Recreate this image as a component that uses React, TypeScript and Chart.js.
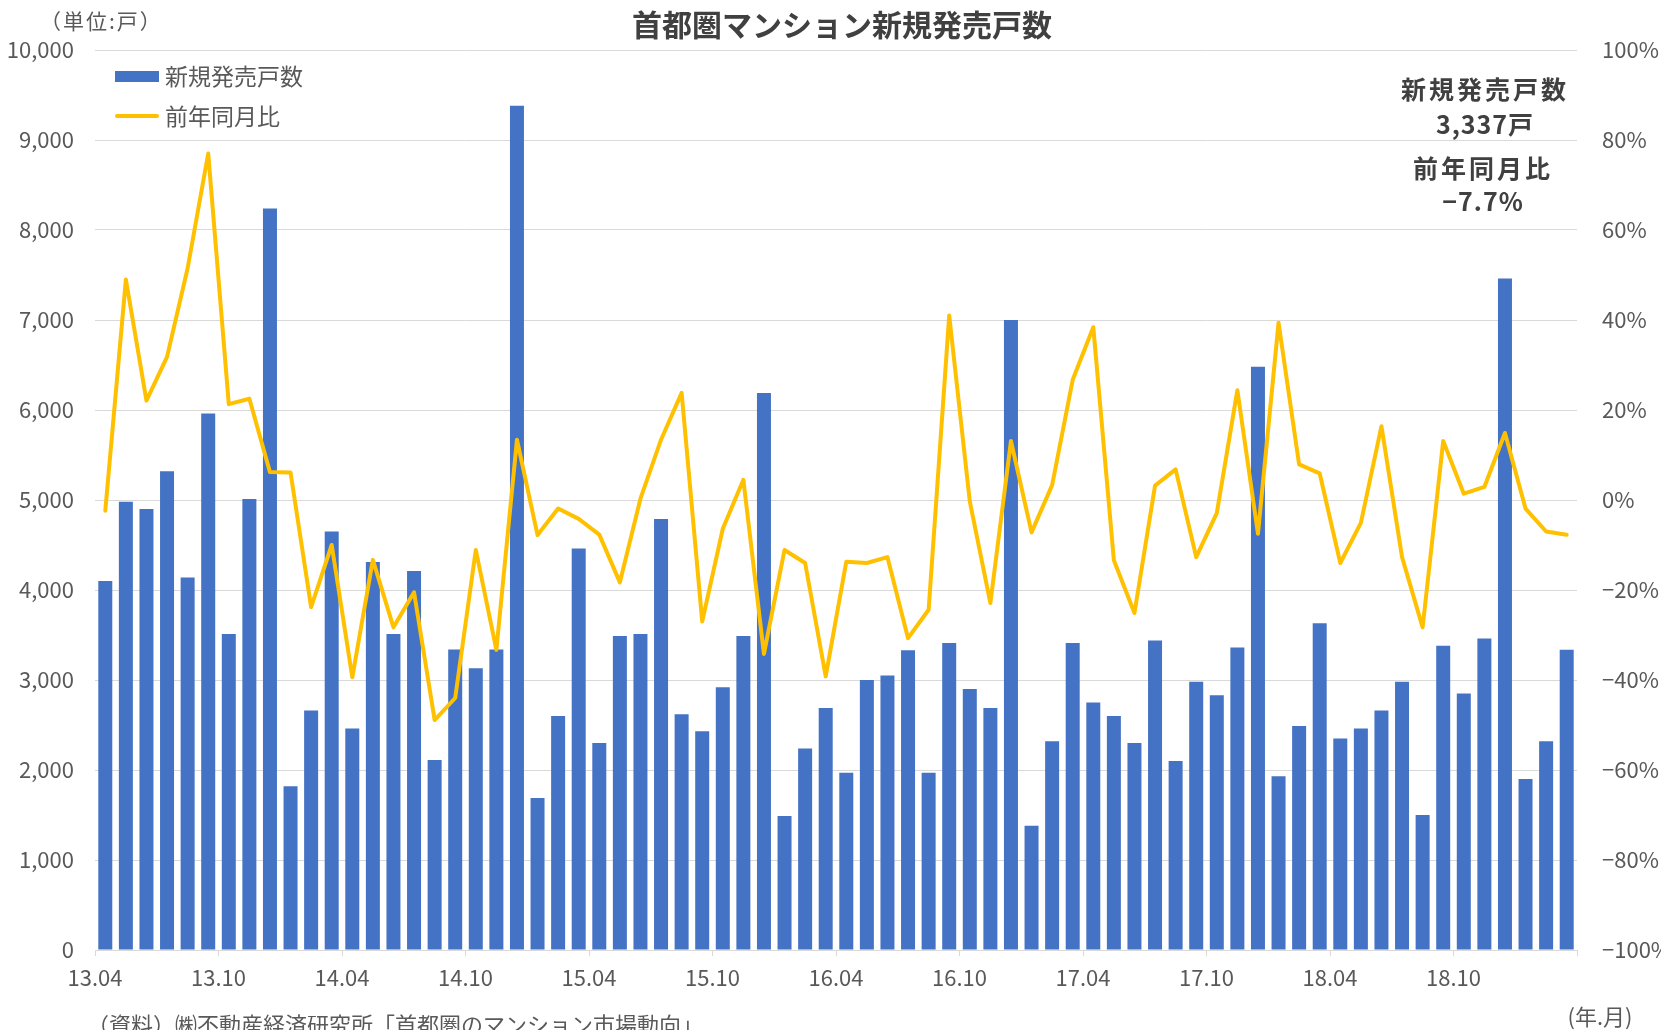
import { useEffect, useRef } from 'react';
import { Chart, registerables } from 'chart.js';

Chart.register(...registerables);

const months = [
  '13.04','13.05','13.06','13.07','13.08','13.09','13.10','13.11','13.12',
  '14.01','14.02','14.03','14.04','14.05','14.06','14.07','14.08','14.09','14.10','14.11','14.12',
  '15.01','15.02','15.03','15.04','15.05','15.06','15.07','15.08','15.09','15.10','15.11','15.12',
  '16.01','16.02','16.03','16.04','16.05','16.06','16.07','16.08','16.09','16.10','16.11','16.12',
  '17.01','17.02','17.03','17.04','17.05','17.06','17.07','17.08','17.09','17.10','17.11','17.12',
  '18.01','18.02','18.03','18.04','18.05','18.06','18.07','18.08','18.09','18.10','18.11','18.12',
  '19.01','19.02','19.03',
];

// 新規発売戸数 (戸)
const units = [
  4100, 4980, 4900, 5320, 4140, 5960, 3510, 5010, 8240,
  1820, 2660, 4650, 2460, 4310, 3510, 4210, 2110, 3340, 3130, 3340, 9380,
  1690, 2600, 4460, 2300, 3490, 3510, 4790, 2620, 2430, 2920, 3490, 6190,
  1490, 2240, 2690, 1970, 3000, 3050, 3330, 1970, 3410, 2900, 2690, 7000,
  1380, 2320, 3410, 2750, 2600, 2300, 3440, 2100, 2980, 2830, 3360, 6480,
  1930, 2490, 3630, 2350, 2460, 2660, 2980, 1500, 3380, 2850, 3460, 7460,
  1900, 2320, 3337,
];

// 前年同月比 (%)
const yoy = [
  -2.4, 49, 22.1, 31.8, 51.5, 77, 21.3, 22.5, 6.2,
  6.1, -23.8, -10, -39.4, -13.3, -28.3, -20.5, -48.9, -44, -11.1, -33.3, 13.4,
  -7.8, -1.9, -4.2, -7.7, -18.3, 0.3, 13.4, 23.8, -27, -6.4, 4.5, -34.2,
  -11.1, -14, -39.2, -13.7, -14, -12.7, -30.7, -24.4, 41, -0.3, -22.9, 13.1,
  -7.2, 3.3, 26.7, 38.4, -13.4, -25.1, 3.2, 6.8, -12.7, -2.9, 24.4, -7.5,
  39.4, 7.9, 5.9, -14, -5.1, 16.4, -12.7, -28.3, 13.1, 1.4, 2.9, 14.9,
  -1.9, -7, -7.7,
];

const xTickLabels = [
  '13.04','13.10','14.04','14.10','15.04','15.10',
  '16.04','16.10','17.04','17.10','18.04','18.10',
];

const FONT = '"Noto Sans CJK JP", "Noto Sans", Roboto, sans-serif';
const GRAY = '#595959';
const DARK = '#404040';
const BLUE = '#4472C4';
const GOLD = '#FFC000';
const GRID = '#d9d9d9';

const fmtPct = (v: number, digits = 0) =>
  `${v < 0 ? '−' : ''}${Math.abs(v).toFixed(digits)}%`;

export default function App() {
  const ref = useRef<HTMLCanvasElement>(null);

  useEffect(() => {
    if (!ref.current) return;
    const lastUnits = units[units.length - 1];
    const lastYoy = yoy[yoy.length - 1];

    const textPlugin = {
      id: 'extraTexts',
      afterDraw(chart: any) {
        const ctx = chart.ctx as CanvasRenderingContext2D;
        const setLS = (v: string) => { try { (ctx as any).letterSpacing = v; } catch (e) {} };
        ctx.save();
        ctx.textBaseline = 'middle';

        // title
        ctx.fillStyle = DARK;
        ctx.font = `bold 30px ${FONT}`;
        ctx.textAlign = 'center';
        ctx.fillText('首都圏マンション新規発売戸数', 842, 25);

        // unit
        ctx.fillStyle = GRAY;
        ctx.font = `21px ${FONT}`;
        ctx.textAlign = 'left';
        setLS('2px');
        ctx.fillText('（単位:戸）', 40, 21);
        setLS('0px');

        // legend
        ctx.fillStyle = BLUE;
        ctx.fillRect(115, 71, 44, 11);
        ctx.strokeStyle = GOLD;
        ctx.lineWidth = 4;
        ctx.lineCap = 'round';
        ctx.beginPath();
        ctx.moveTo(117, 116);
        ctx.lineTo(157, 116);
        ctx.stroke();
        ctx.fillStyle = GRAY;
        ctx.font = `23px ${FONT}`;
        ctx.fillText('新規発売戸数', 165, 76);
        ctx.fillText('前年同月比', 165, 116);

        // annotation
        ctx.fillStyle = DARK;
        ctx.textAlign = 'center';
        ctx.font = `bold 25px ${FONT}`;
        setLS('3px');
        ctx.fillText('新規発売戸数', 1485, 89);
        ctx.fillText('前年同月比', 1483, 168);
        setLS('1px');
        ctx.fillText(`${lastUnits.toLocaleString('en-US')}戸`, 1485, 124);
        ctx.fillText(fmtPct(lastYoy, 1), 1483, 201);
        setLS('0px');

        // source & axis unit
        ctx.fillStyle = GRAY;
        ctx.font = `22px ${FONT}`;
        ctx.textAlign = 'left';
        ctx.fillText('（資料）㈱不動産経済研究所「首都圏のマンション市場動向」', 87, 1025);
        ctx.textAlign = 'center';
        ctx.fillText('(年.月)', 1600, 1017);

        ctx.restore();
      },
    };

    const chart = new Chart(ref.current, {
      type: 'bar',
      data: {
        labels: months,
        datasets: [
          {
            type: 'line',
            label: '前年同月比',
            data: yoy,
            xAxisID: 'x',
            yAxisID: 'y1',
            borderColor: GOLD,
            backgroundColor: GOLD,
            borderWidth: 4,
            pointRadius: 0,
            tension: 0,
            borderJoinStyle: 'round',
            borderCapStyle: 'round',
            order: 0,
          } as any,
          {
            type: 'bar',
            label: '新規発売戸数',
            data: units,
            xAxisID: 'x',
            yAxisID: 'y',
            backgroundColor: BLUE,
            barPercentage: 0.68,
            categoryPercentage: 1,
            order: 1,
          } as any,
        ],
      },
      options: {
        responsive: false,
        devicePixelRatio: 1,
        animation: false,
        layout: { padding: { top: 50, left: 0, right: 0, bottom: 0 } },
        plugins: {
          legend: { display: false },
          tooltip: { enabled: false },
          title: { display: false },
        },
        font: { family: FONT } as any,
        scales: {
          x: {
            type: 'category',
            display: false,
            offset: true,
            grid: { display: false },
          },
          x2: {
            type: 'linear',
            position: 'bottom',
            min: 0,
            max: 72,
            offset: false,
            ticks: {
              stepSize: 6,
              autoSkip: false,
              maxRotation: 0,
              color: GRAY,
              padding: 8,
              font: { family: FONT, size: 22 },
              callback: (v: any) => xTickLabels[Math.round(Number(v) / 6)] ?? '',
            },
            grid: { drawOnChartArea: false, offset: false, color: GRID, tickLength: 6, lineWidth: 1 },
            border: { display: true, color: GRID },
            afterFit: (s: any) => { s.height = 80; },
          } as any,
          y: {
            type: 'linear',
            position: 'left',
            min: 0,
            max: 10000,
            ticks: {
              stepSize: 1000,
              color: GRAY,
              padding: 21,
              font: { family: FONT, size: 22 },
              callback: (v: any) => Number(v).toLocaleString('en-US'),
            },
            grid: { color: GRID, lineWidth: 1, drawTicks: false },
            border: { display: false },
            afterFit: (s: any) => { s.width = 95; },
          } as any,
          y1: {
            type: 'linear',
            position: 'right',
            min: -100,
            max: 100,
            ticks: {
              stepSize: 20,
              color: GRAY,
              padding: 25,
              font: { family: FONT, size: 22 },
              callback: (v: any) => fmtPct(Number(v)),
            },
            grid: { drawOnChartArea: false, drawTicks: false },
            border: { display: false },
            afterFit: (s: any) => { s.width = 84; },
          } as any,
        },
      } as any,
      plugins: [textPlugin],
    });
    return () => chart.destroy();
  }, []);

  return (
    <div style={{ position: 'fixed', left: 0, top: 0, width: 1661, height: 1030, background: '#fff' }}>
      <canvas ref={ref} width={1661} height={1030} style={{ display: 'block', width: 1661, height: 1030 }} />
    </div>
  );
}
